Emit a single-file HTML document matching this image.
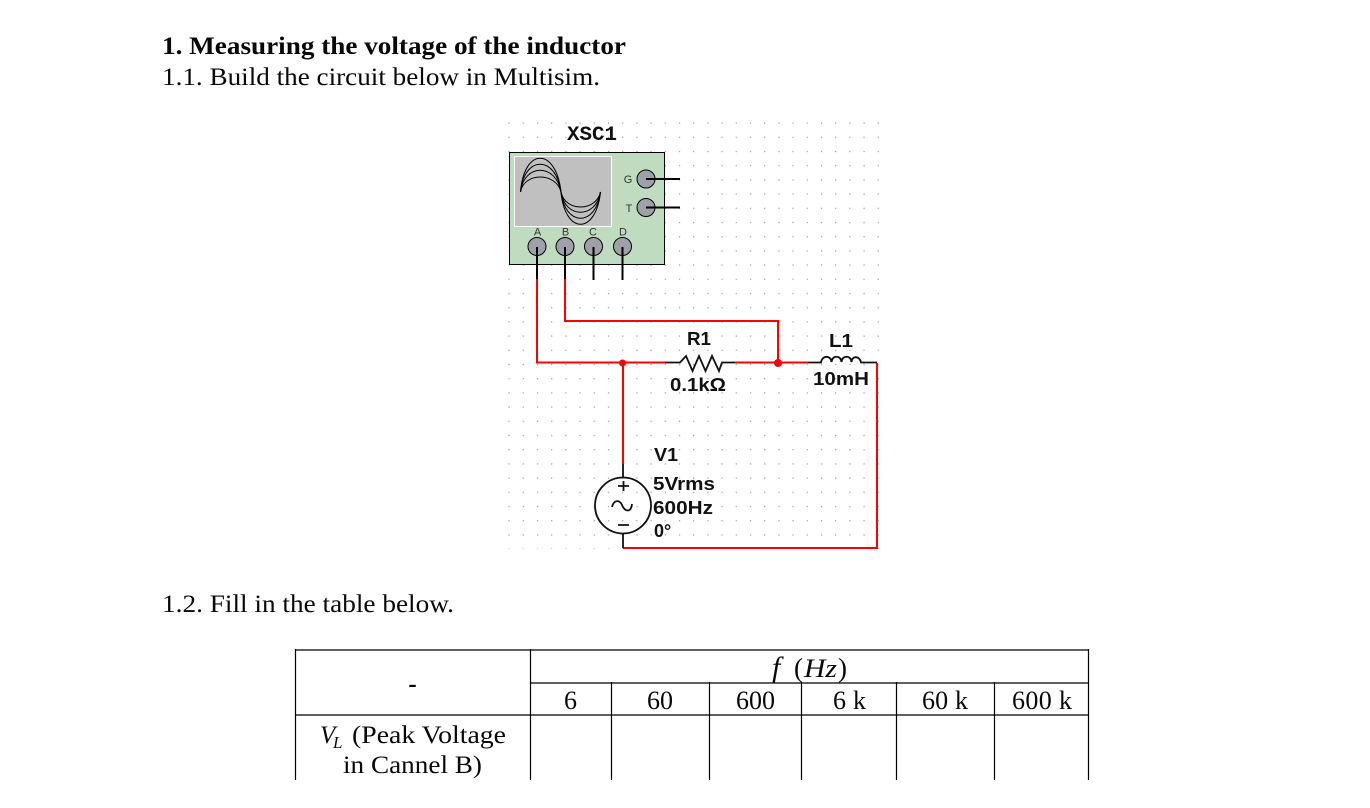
<!DOCTYPE html>
<html><head><meta charset="utf-8"><style>
html,body{margin:0;padding:0;background:#fff;width:1370px;height:808px;overflow:hidden}
svg{display:block}
.s{font-family:"Liberation Serif",serif;fill:#080808}
.a{font-family:"Liberation Sans",sans-serif;fill:#111;font-weight:bold;font-size:18px}
</style></head><body>
<svg width="1370" height="808" viewBox="0 0 1370 808" xmlns="http://www.w3.org/2000/svg">
<defs><pattern id="d" x="508.5" y="122.5" width="14.2" height="14.2" patternUnits="userSpaceOnUse"><rect width="1.2" height="1.2" fill="#999"/></pattern></defs>
<rect width="1370" height="808" fill="#fff"/>
<text class="s" x="162" y="54" font-size="25" font-weight="bold" textLength="464" lengthAdjust="spacingAndGlyphs">1. Measuring the voltage of the inductor</text>
<text class="s" x="162" y="85" font-size="25" textLength="438" lengthAdjust="spacingAndGlyphs">1.1. Build the circuit below in Multisim.</text>
<text class="s" x="162" y="612" font-size="25" textLength="292" lengthAdjust="spacingAndGlyphs">1.2. Fill in the table below.</text>

<rect x="508" y="122" width="371" height="427" fill="url(#d)"/>
<text x="567" y="140" font-family="Liberation Mono,monospace" font-weight="bold" font-size="20" fill="#111" textLength="50" lengthAdjust="spacingAndGlyphs">XSC1</text>

<rect x="509.5" y="152.5" width="155" height="112" fill="#c0dcc0" stroke="#000" stroke-width="1"/>
<rect x="514.5" y="156.5" width="97" height="70" fill="#c0c0c0" stroke="#fff" stroke-width="1"/>
<g fill="none" stroke="#000" stroke-width="1">
<path d="M520.5 192C524 147 556 147 561 192C565 235 596 235 600.5 192"/>
<path d="M520.5 192C524 155 556 155 561 192C565 227 596 227 600.5 192"/>
<path d="M520.5 192C524 163 556 163 561 192C565 219 596 219 600.5 192"/>
<path d="M520.5 192C524 172 556 172 561 192C565 212 596 212 600.5 192"/>
</g>
<g font-family="Liberation Sans,sans-serif" font-size="11" fill="#333" text-anchor="middle">
<text x="628" y="183">G</text><text x="629" y="212">T</text>
<text x="537.5" y="235.5">A</text><text x="565.5" y="235.5">B</text><text x="593" y="235.5">C</text><text x="623" y="235.5">D</text>
</g>
<g fill="#a0a0a8" stroke="#000" stroke-width="1">
<circle cx="646" cy="179" r="9"/><circle cx="646" cy="207.5" r="9"/>
<circle cx="537" cy="246.5" r="9"/><circle cx="565" cy="246.5" r="9"/><circle cx="593.5" cy="246.5" r="9"/><circle cx="622.5" cy="246.5" r="9"/>
</g>
<g stroke="#000" stroke-width="2" fill="none">
<path d="M646 179H680M646 207.5H680M537 247V279M565 247V279M593.5 247V280M622.5 247V280"/>
</g>

<g stroke="#f00" stroke-width="2" fill="none">
<path d="M537 279V362.5H665"/>
<path d="M565 279V321H778V362.5"/>
<path d="M735 362.5H808"/>
<path d="M877 363V548H623"/>
<path d="M623 362.5V464"/>
</g>
<circle cx="622.5" cy="363" r="3.5" fill="#f00"/><circle cx="778" cy="363" r="4" fill="#f00"/>

<g stroke="#111" stroke-width="1.8" fill="none">
<path d="M665 362.5H680L686 356L692.5 371L699 356L705.5 371L712 356L719 371L722 362.5H735"/>
<path d="M808 362.5H821C822 355 831 355 831.5 362C832 355 841 355 841.5 362C842 355 851 355 851.5 362C852 355 860 356 861 362.5H877"/>
<path d="M623 464V478M623 534V548"/>
<circle cx="623" cy="505.5" r="28"/>
<path d="M618 486H629M623.5 481V491M618 525H629"/>
<path d="M612 507C614 499 620 500 622 505C625 512 631 513 632 504"/>
</g>

<text class="a" x="687" y="345" textLength="24" lengthAdjust="spacingAndGlyphs">R1</text>
<text class="a" x="670" y="391" textLength="56" lengthAdjust="spacingAndGlyphs">0.1kΩ</text>
<text class="a" x="829" y="347" textLength="24" lengthAdjust="spacingAndGlyphs">L1</text>
<text class="a" x="813" y="385" textLength="56" lengthAdjust="spacingAndGlyphs">10mH</text>
<text class="a" x="654" y="461" textLength="24" lengthAdjust="spacingAndGlyphs">V1</text>
<text class="a" x="653" y="490" textLength="62" lengthAdjust="spacingAndGlyphs">5Vrms</text>
<text class="a" x="653" y="514" textLength="60" lengthAdjust="spacingAndGlyphs">600Hz</text>
<text class="a" x="654" y="537">0°</text>

<g stroke="#000" stroke-width="1.2" fill="none">
<path d="M295.5 650H1088.5M530.5 683H1088.5M295.5 715H1088.5"/>
<path d="M295.5 649V780M530.5 649V780M611.5 682V780M709.5 682V780M801.5 682V780M896.5 682V780M994.5 682V780M1088.5 649V780"/>
</g>
<text class="s" x="412.5" y="692" font-size="25" font-weight="bold" text-anchor="middle">-</text>
<g font-size="26">
<text class="s" x="564" y="709">6</text>
<text class="s" x="647" y="709">60</text>
<text class="s" x="736" y="709">600</text>
<text class="s" x="833" y="709" textLength="33" lengthAdjust="spacing">6 k</text>
<text class="s" x="922" y="709" textLength="46" lengthAdjust="spacing">60 k</text>
<text class="s" x="1012" y="709" textLength="60" lengthAdjust="spacing">600 k</text>
</g>
<text class="s" x="343" y="773" font-size="25" textLength="139" lengthAdjust="spacingAndGlyphs">in Cannel B)</text>
<text class="s" x="320" y="743" font-size="25" font-style="italic">V</text>
<text class="s" x="333" y="748" font-size="17" font-style="italic">L</text>
<text class="s" x="352" y="743" font-size="25" textLength="154" lengthAdjust="spacingAndGlyphs">(Peak Voltage</text>
<text class="s" x="772" y="677" font-size="30" font-style="italic">f</text>
<text class="s" x="794" y="677" font-size="27">(</text>
<text class="s" x="804" y="677" font-size="26" font-style="italic" textLength="33" lengthAdjust="spacingAndGlyphs">Hz</text>
<text class="s" x="838" y="677" font-size="27">)</text>
</svg>
</body></html>
